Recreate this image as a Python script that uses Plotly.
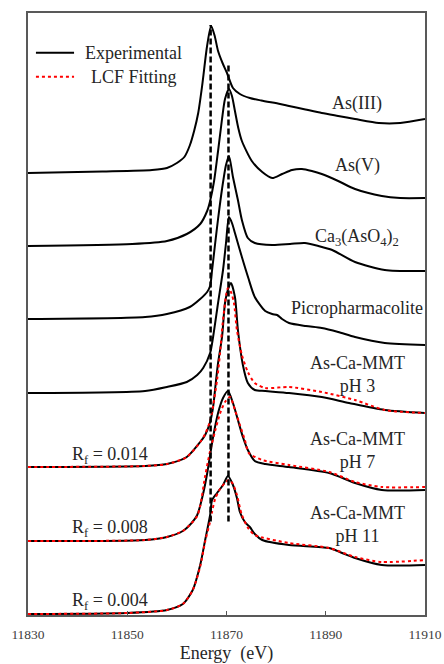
import numpy as np
import plotly.graph_objects as go

# ---------------- data (normalized absorbance) ----------------
e_as3 = [11830, 11845, 11855, 11858, 11860, 11861.5, 11862.6, 11863.5, 11864.3, 11865.1, 11866.1, 11866.9,
         11867.6, 11868.3, 11869.2, 11870.1, 11871.3, 11872.7, 11874.7, 11877, 11880.8, 11882.6, 11885.9,
         11889.2, 11892.5, 11895.9, 11900.7, 11905, 11910]
mu_as3 = [0, 0.03, 0.06, 0.1, 0.2, 0.32, 0.55, 0.85, 1.2, 1.75, 2.55, 2.94,
          2.75, 2.44, 2.2, 2.0, 1.7, 1.58, 1.5, 1.45, 1.38, 1.34, 1.27,
          1.2, 1.14, 1.08, 1.0, 1.0, 1.08]

e_as5 = [11830, 11851, 11858, 11862, 11864.7, 11866.1, 11866.7, 11867.5, 11868.3, 11869.1, 11869.7, 11870.5,
         11871.1, 11871.7, 11872.4, 11873.1, 11875.1, 11877.2, 11879.2, 11881.2, 11883.2, 11885.2, 11887.2,
         11889.2, 11892.5, 11895.9, 11901.3, 11905, 11910]
mu_as5 = [0, 0.04, 0.1, 0.24, 0.44, 0.7, 0.9, 1.3, 1.9, 2.54, 2.94, 3.14,
          3.0, 2.7, 2.35, 2.1, 1.7, 1.48, 1.36, 1.44, 1.52, 1.54, 1.5,
          1.44, 1.3, 1.14, 1.0, 0.96, 0.96]

e_ca3 = [11830, 11853.6, 11858, 11862.6, 11864.7, 11866.1, 11866.7, 11867.1, 11867.7, 11868.3, 11869.1, 11869.9,
         11870.5, 11871.3, 11872.3, 11873.1, 11874.3, 11875.7, 11879.2, 11882.8, 11885.8, 11888.5, 11891.3,
         11895.9, 11901.9, 11910]
mu_ca3 = [0, 0.04, 0.1, 0.24, 0.4, 0.54, 0.66, 0.98, 1.5, 2.0, 2.6, 3.08,
          3.26, 2.84, 2.38, 1.98, 1.62, 1.52, 1.48, 1.5, 1.52, 1.46, 1.38,
          1.14, 0.98, 0.96]

e_picro = [11830, 11853.6, 11858, 11862, 11864.1, 11865.3, 11866.7, 11867.3, 11868.3, 11869.3, 11869.9, 11870.5,
           11871.1, 11871.7, 11873.1, 11874.4, 11875.7, 11877.8, 11879.2, 11880.2, 11881.2, 11882.6, 11886,
           11889.2, 11892.5, 11895.9, 11901.9, 11910]
mu_picro = [0, 0.04, 0.12, 0.22, 0.36, 0.5, 0.8, 1.12, 1.8, 2.46, 3.0, 3.52,
            3.4, 3.2, 2.72, 2.3, 1.92, 1.64, 1.58, 1.56, 1.48, 1.4, 1.34,
            1.3, 1.22, 1.12, 1.0, 0.96]

e_ph3 = [11830, 11853.6, 11858, 11862, 11864.7, 11865.7, 11866.7, 11867.3, 11867.9, 11868.3, 11869.1, 11869.7,
         11870.3, 11870.9, 11871.7, 11872.3, 11873.3, 11874.3, 11875.7, 11877.8, 11882.6, 11889.2, 11894.7,
         11901.9, 11910]
mu_ph3 = [0, 0.02, 0.06, 0.2, 0.5, 0.64, 0.9, 1.2, 1.74, 2.08, 2.6, 3.28,
          3.55, 3.68, 3.4, 2.74, 2.04, 1.68, 1.54, 1.52, 1.48, 1.4, 1.28,
          1.14, 1.08]
e_ph3_fit = [11830, 11853.6, 11858, 11862, 11864.7, 11865.7, 11866.7, 11867.3, 11868.1, 11868.7, 11869.3, 11870.3,
             11870.9, 11871.5, 11872.1, 11873.1, 11874.3, 11875.7, 11877.8, 11882.6, 11889.2, 11895.9,
             11901.9, 11910]
mu_ph3_fit = [0, 0.02, 0.06, 0.2, 0.5, 0.66, 0.92, 1.22, 1.74, 2.28, 2.94, 3.58,
              3.5, 3.28, 2.74, 2.24, 1.9, 1.68, 1.58, 1.6, 1.5, 1.34,
              1.14, 1.08]

e_ph7 = [11830, 11853.6, 11858, 11861.2, 11862.6, 11864.1, 11865.3, 11866.1, 11866.7, 11867.3, 11868.3, 11869.3,
         11870.3, 11871.3, 11872.3, 11873.3, 11874.3, 11875.7, 11877.8, 11882.6, 11890.7, 11895.9, 11901.3, 11910]
mu_ph7 = [0, 0.02, 0.08, 0.2, 0.32, 0.52, 0.95, 1.35, 1.72, 2.08, 2.56, 2.86,
          3.0, 2.76, 2.42, 2.08, 1.82, 1.6, 1.54, 1.48, 1.36, 1.16, 1.02, 1.02]
e_ph7_fit = [11830, 11853.6, 11858, 11861.2, 11862.6, 11864.1, 11864.7, 11865.7, 11866.7, 11867.7, 11868.7, 11869.7,
             11870.7, 11871.7, 11872.7, 11873.7, 11874.5, 11877.2, 11882.6, 11890.7, 11895.9, 11901.3, 11910]
mu_ph7_fit = [0, 0.02, 0.08, 0.2, 0.32, 0.5, 0.7, 1.3, 1.8, 2.2, 2.55, 2.78,
              2.88, 2.62, 2.32, 2.02, 1.76, 1.62, 1.52, 1.38, 1.18, 1.08, 1.08]

e_ph11 = [11830, 11850, 11858, 11861.2, 11863.2, 11864.7, 11865.7, 11866.7, 11867.1, 11868.1, 11869.3, 11870.3,
          11871.3, 11872.1, 11872.7, 11873.7, 11874.7, 11875.7, 11877.2, 11882.6, 11890.7, 11893.3, 11895.9,
          11901.3, 11910]
mu_ph11 = [0, 0.02, 0.08, 0.2, 0.48, 0.98, 1.48, 1.98, 2.28, 2.42, 2.58, 2.76,
           2.58, 2.32, 2.04, 1.84, 1.74, 1.6, 1.48, 1.38, 1.32, 1.22, 1.12,
           0.98, 0.98]
e_ph11_fit = [11830, 11850, 11858, 11861.2, 11863.2, 11864.7, 11865.7, 11866.7, 11867.1, 11867.7, 11868.7, 11869.7,
              11870.5, 11871.3, 11872.1, 11873.1, 11874.5, 11875.7, 11882.6, 11890.7, 11895.9, 11901.3, 11910]
mu_ph11_fit = [0, 0.02, 0.08, 0.2, 0.48, 0.95, 1.45, 1.85, 2.05, 2.3, 2.5, 2.62,
               2.68, 2.6, 2.38, 1.98, 1.7, 1.58, 1.42, 1.32, 1.14, 1.04, 1.08]

sample_names = ["As(III)", "As(V)", "Ca<sub>3</sub>(AsO<sub>4</sub>)<sub>2</sub>", "Picropharmacolite",
                "As-Ca-MMT<br>pH 3", "As-Ca-MMT<br>pH 7", "As-Ca-MMT<br>pH 11"]
offsets = [8.82, 7.36, 5.9, 4.42, 2.94, 1.46, 0.0]
rf_values = ["0.014", "0.008", "0.004"]
edge_energies = [11866.8, 11870.4]
edge_tops = [11.78, 10.98]
edge_bottom = 1.85
x_ticks = [11830, 11850, 11870, 11890, 11910]

experimental = [(e_as3, mu_as3), (e_as5, mu_as5), (e_ca3, mu_ca3), (e_picro, mu_picro),
                (e_ph3, mu_ph3), (e_ph7, mu_ph7), (e_ph11, mu_ph11)]
fits = {4: (e_ph3_fit, mu_ph3_fit), 5: (e_ph7_fit, mu_ph7_fit), 6: (e_ph11_fit, mu_ph11_fit)}

FONT = "Liberation Serif"
TXT = "#262626"
fig = go.Figure()

for i, (e, mu) in enumerate(experimental):
    fig.add_trace(go.Scatter(x=e, y=np.array(mu) + offsets[i], mode="lines",
                             line=dict(color="black", width=2, shape="spline", smoothing=0.7),
                             showlegend=False, hoverinfo="skip"))
for i, (e, mu) in fits.items():
    fig.add_trace(go.Scatter(x=e, y=np.array(mu) + offsets[i], mode="lines",
                             line=dict(color="#FF0000", width=2, dash="dot", shape="spline", smoothing=0.7),
                             showlegend=False, hoverinfo="skip"))

# dashed reference lines at the edge energies
for ex, top in zip(edge_energies, edge_tops):
    fig.add_trace(go.Scatter(x=[ex, ex], y=[edge_bottom, top], mode="lines",
                             line=dict(color="black", width=2.5, dash="6px,3px"),
                             showlegend=False, hoverinfo="skip"))

# sample labels
label_y = [10.22, 8.98, 7.54, 6.12, 4.79, 3.27, 1.80]
for name, ly in zip(sample_names, label_y):
    fig.add_annotation(x=11896.3, y=ly, text=name, showarrow=False, xanchor="center", yanchor="middle",
                       font=dict(family=FONT, size=18, color=TXT), align="center")

rf_y = [3.17, 1.71, 0.25]
for rv, ry in zip(rf_values, rf_y):
    fig.add_annotation(x=11846.5, y=ry, text="R<sub>f</sub> = " + rv, showarrow=False,
                       xanchor="center", yanchor="middle",
                       font=dict(family=FONT, size=18, color=TXT))

# legend (manual)
fig.add_shape(type="line", xref="paper", yref="paper", x0=0.02, x1=0.116, y0=0.934, y1=0.934,
              line=dict(color="black", width=2))
fig.add_shape(type="line", xref="paper", yref="paper", x0=0.02, x1=0.116, y0=0.894, y1=0.894,
              line=dict(color="#FF0000", width=2, dash="dot"))
fig.add_annotation(xref="paper", yref="paper", x=0.267, y=0.934, text="Experimental", showarrow=False,
                   xanchor="center", yanchor="middle", font=dict(family=FONT, size=18, color=TXT))
fig.add_annotation(xref="paper", yref="paper", x=0.267, y=0.894, text="LCF Fitting", showarrow=False,
                   xanchor="center", yanchor="middle", font=dict(family=FONT, size=18, color=TXT))

fig.update_layout(
    width=444, height=664,
    margin=dict(l=28, r=19, t=13, b=49, autoexpand=False),
    paper_bgcolor="white", plot_bgcolor="white",
    font=dict(family=FONT),
)
fig.update_xaxes(range=[11830, 11910], tickvals=x_ticks, ticktext=[str(t) for t in x_ticks],
                 automargin=False,
                 ticks="inside", ticklen=4, tickcolor="#555555", tickwidth=1.2,
                 ticklabelstandoff=6,
                 showline=True, linecolor="#595959", linewidth=1.5, mirror=True,
                 showgrid=False, zeroline=False,
                 tickfont=dict(family=FONT, size=13.5, color="#404040"),
                 title=dict(text="Energy  (eV)", font=dict(family=FONT, size=18, color=TXT), standoff=8))
fig.update_yaxes(range=[-0.02, 12.02], showticklabels=False, ticks="", automargin=False,
                 showline=True, linecolor="#595959", linewidth=1.5, mirror=True,
                 showgrid=False, zeroline=False)

# remove the page's default 8px body margin so the 444x664 figure fills the window exactly
fig.write_html("out.html", config={"displayModeBar": False},
               post_script="document.body.style.margin='0px';")
